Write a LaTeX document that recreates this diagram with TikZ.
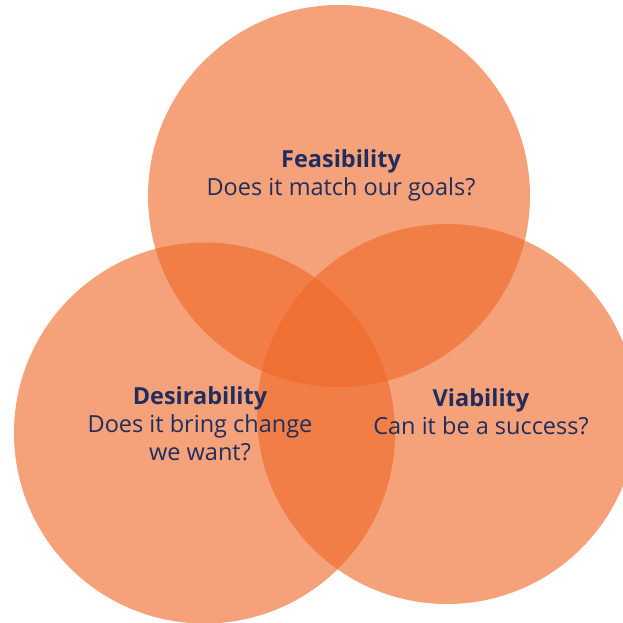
\documentclass[tikz,border=0pt]{standalone}
\usepackage{fontspec}
\setmainfont{Open Sans}
\definecolor{circ}{RGB}{239,104,40}
\definecolor{navy}{RGB}{33,45,92}
\tikzset{
  venn/.style={fill=circ, fill opacity=0.62, draw=none},
  lbl/.style={text=navy, align=center, font=\fontsize{23.5}{28}\selectfont, inner sep=0pt}
}
\begin{document}
\begin{tikzpicture}[x=1pt,y=-1pt]
\useasboundingbox (0,0) rectangle (623,622);
\begin{scope}
\clip (0,0) rectangle (623,622);
\fill[venn] (339,196) circle (191);
\fill[venn] (204.5,433) circle (190.5);
\fill[venn] (447,414) circle (190);
\end{scope}
\node[lbl] (feas) at (341,175) {\textbf{Feasibility}\\Does it match our goals?};
\node[lbl] (des) at (200,424) {\textbf{Desirability}\\Does it bring change\\we want?};
\node[lbl] (via) at (481,412) {\textbf{Viability}\\Can it be a success?};
\end{tikzpicture}
\end{document}
